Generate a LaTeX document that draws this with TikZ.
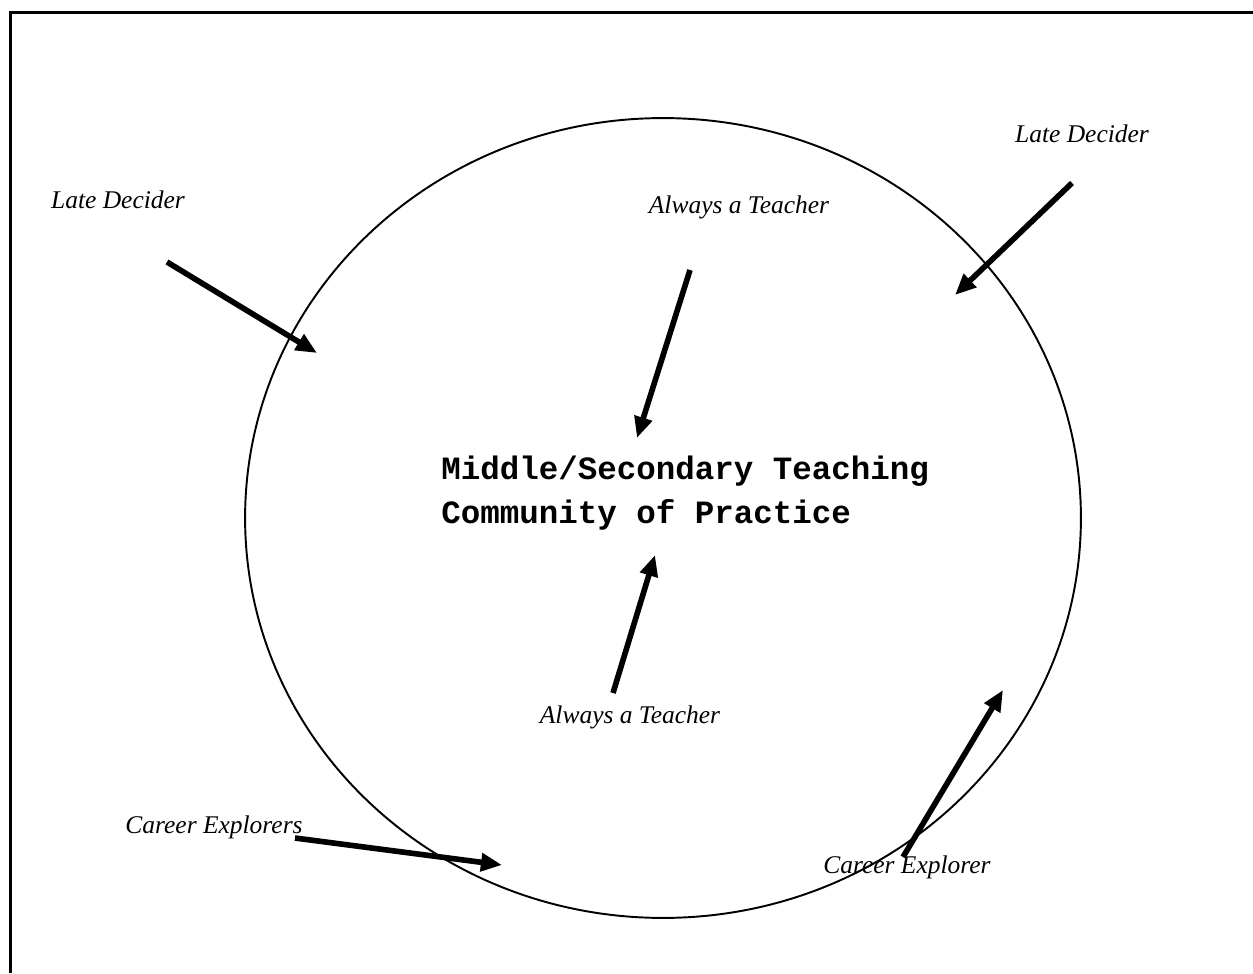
\documentclass[tikz,border=0pt]{standalone}
\usepackage{fontspec}
\setmainfont{Liberation Serif}
\setmonofont{Liberation Mono}
\usetikzlibrary{arrows.meta}
\def\thickness{3.2pt}
\tikzset{
careerpath/.style={line width=\thickness, -{Triangle[length=12pt,width=10pt]}},
pathway/.style={font=\fontsize{14.5}{17}\selectfont\itshape, inner sep=0pt},
}

\begin{document}
\begin{tikzpicture}[x=0.02cm, y=-0.02cm]
\useasboundingbox (0,0) rectangle (1253,973);
\tikzstyle{frame}=[line width=1.4pt]
%The frame and the community
\draw[frame] (10.5,973) -- (10.5,12.5) -- (1253,12.5);
\draw[line width=1.1pt] (663,518) ellipse [x radius=8.36cm, y radius=8cm];
\node[font=\fontsize{18.5}{25}\selectfont\ttfamily\bfseries, align=left, inner sep=0pt, anchor=west] (cop) at (441,493) {Middle/Secondary Teaching\\Community of Practice};

%Place the labels
\node[pathway] (late1) at (118,200) {Late Decider};
\node[pathway] (late2) at (1082,134) {Late Decider};
\node[pathway] (always1) at (739,207) {Always a Teacher};
\node[pathway] (always2) at (630,717) {Always a Teacher};
\node[pathway] (explorers) at (214,827) {Career Explorers};
\node[pathway] (explorer) at (907,867) {Career Explorer};

%Ends of the arrows
\coordinate (l1a) at (167,262); \coordinate (l1b) at (317,353);
\coordinate (l2a) at (1072,183); \coordinate (l2b) at (955,295);
\coordinate (a1a) at (690,270); \coordinate (a1b) at (637,438);
\coordinate (a2a) at (613,693); \coordinate (a2b) at (655,555);
\coordinate (e1a) at (295,838); \coordinate (e1b) at (502,865);
\coordinate (e2a) at (903,857); \coordinate (e2b) at (1003,690);

%
\draw[careerpath] (l1a) to (l1b);
\draw[careerpath] (l2a) to (l2b);
\draw[careerpath] (a1a) to (a1b);
\draw[careerpath] (a2a) to (a2b);
\draw[careerpath] (e1a) to (e1b);
\draw[careerpath] (e2a) to (e2b);

\end{tikzpicture}
\end{document}
